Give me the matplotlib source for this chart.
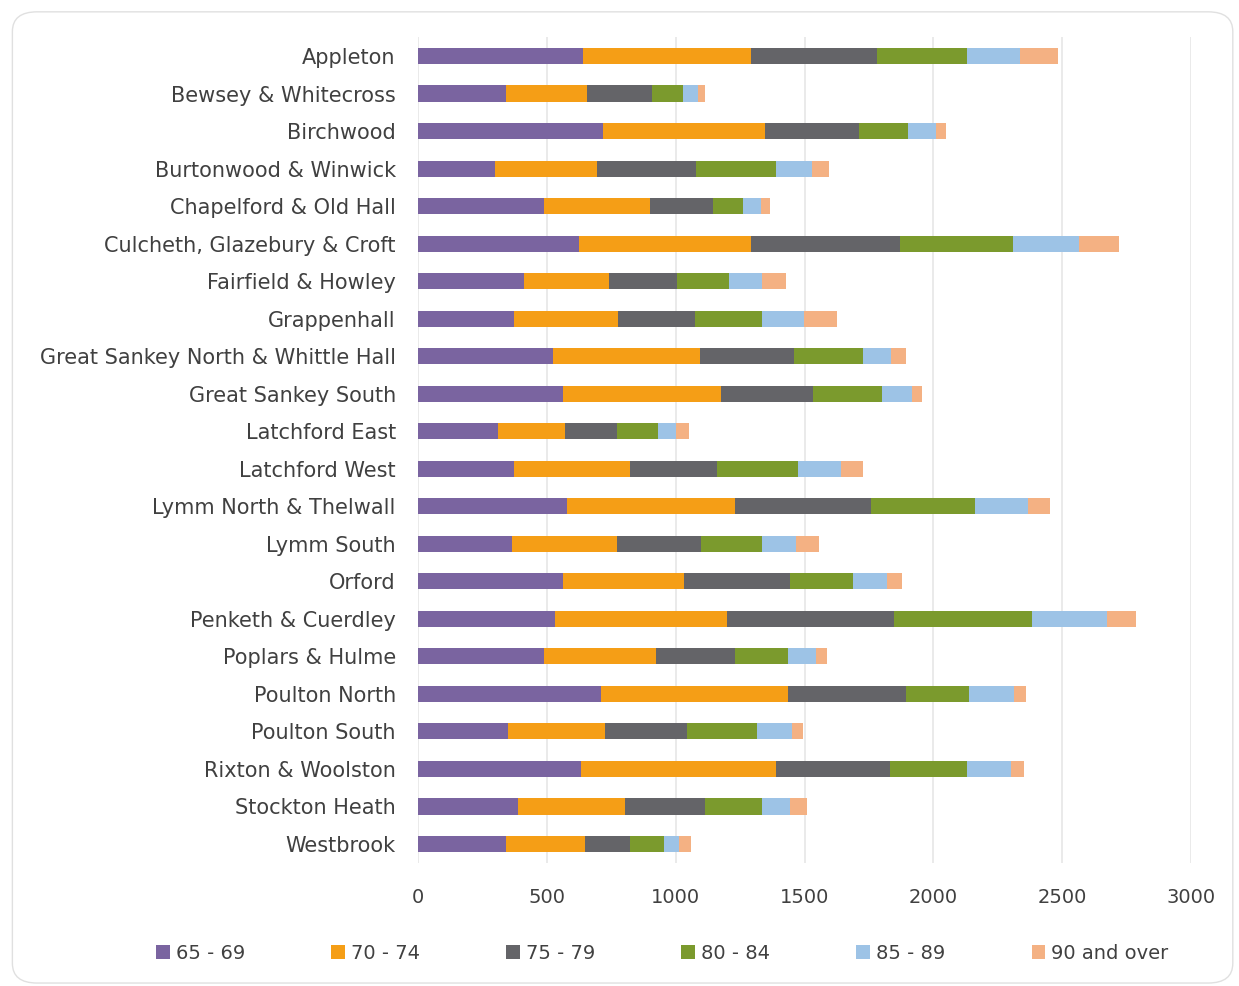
"""Stacked horizontal bars: population aged 65+ by ward and age band
"""
import matplotlib
matplotlib.use("Agg")
import matplotlib.pyplot as plt
from matplotlib.patches import FancyBboxPatch

wards = ["Appleton", "Bewsey & Whitecross", "Birchwood", "Burtonwood & Winwick",
         "Chapelford & Old Hall", "Culcheth, Glazebury & Croft", "Fairfield & Howley",
         "Grappenhall", "Great Sankey North & Whittle Hall", "Great Sankey South",
         "Latchford East", "Latchford West", "Lymm North & Thelwall", "Lymm South",
         "Orford", "Penketh & Cuerdley", "Poplars & Hulme", "Poulton North",
         "Poulton South", "Rixton & Woolston", "Stockton Heath", "Westbrook"]

age_65_69 = [640, 341, 718, 299, 489, 625, 411, 372, 524, 563, 310,
             372, 578, 365, 563, 532, 489, 710, 349, 632, 388, 341]
age_70_74 = [652, 315, 628, 396, 411, 667, 330, 404, 570, 613, 260,
             451, 652, 407, 469, 667, 434, 726, 377, 757, 415, 307]
age_75_79 = [489, 252, 365, 384, 245, 578, 264, 299, 365, 357, 202,
             337, 528, 326, 411, 648, 307, 457, 318, 442, 311, 175]
age_80_84 = [349, 120, 190, 310, 116, 439, 202, 260, 268, 267, 159,
             314, 403, 237, 245, 535, 206, 245, 271, 299, 221, 131]
age_85_89 = [206, 58, 109, 140, 70, 256, 128, 163, 108, 117, 70,
             167, 206, 132, 132, 291, 108, 174, 136, 171, 108, 59]
age_90_plus = [147, 28, 39, 66, 35, 155, 93, 128, 58, 39, 50,
               86, 85, 89, 58, 113, 43, 47, 43, 50, 66, 46]

series = [("65 - 69", age_65_69, "#7a64a0"),
          ("70 - 74", age_70_74, "#f59e16"),
          ("75 - 79", age_75_79, "#646468"),
          ("80 - 84", age_80_84, "#7b9a2d"),
          ("85 - 89", age_85_89, "#9dc3e6"),
          ("90 and over", age_90_plus, "#f4b183")]

plt.rcParams["font.family"] = ["DejaVu Sans"]

fig = plt.figure(figsize=(12.39, 9.86), dpi=100)
ax = fig.add_axes([0.3374, 0.125, 0.6239, 0.8372])

y = list(range(len(wards)))
left = [0] * len(wards)
for label, vals, color in series:
    ax.barh(y, vals, left=left, height=0.43, color=color, label=label, zorder=3)
    left = [a + b for a, b in zip(left, vals)]

ax.set_ylim(len(wards) - 0.5, -0.5)
ax.set_xlim(0, 3000)
ax.set_xticks(range(0, 3001, 500))
ax.set_yticks(y)
ax.set_yticklabels(wards, fontsize=15)
ax.tick_params(axis="both", length=0, colors="#404040")
ax.tick_params(axis="x", labelsize=14, pad=18)
ax.tick_params(axis="y", pad=16)
ax.grid(axis="x", color="#e6e6e6", linewidth=1.2, zorder=0)
for s in ax.spines.values():
    s.set_visible(False)

fig.legend(loc="lower left", bbox_to_anchor=(0.112, 0.006, 0.845, 0.06), mode="expand",
           ncol=6, frameon=False, fontsize=14, handlelength=0.7, handleheight=0.7,
           handletextpad=0.3, labelcolor="#404040")

border = FancyBboxPatch((0.01, 0.003), 0.985, 0.985, boxstyle="round,pad=0,rounding_size=0.02",
                        transform=fig.transFigure, fill=False, edgecolor="#e0e0e0", linewidth=1)
fig.patches.append(border)

plt.savefig("out.png", dpi=100)
